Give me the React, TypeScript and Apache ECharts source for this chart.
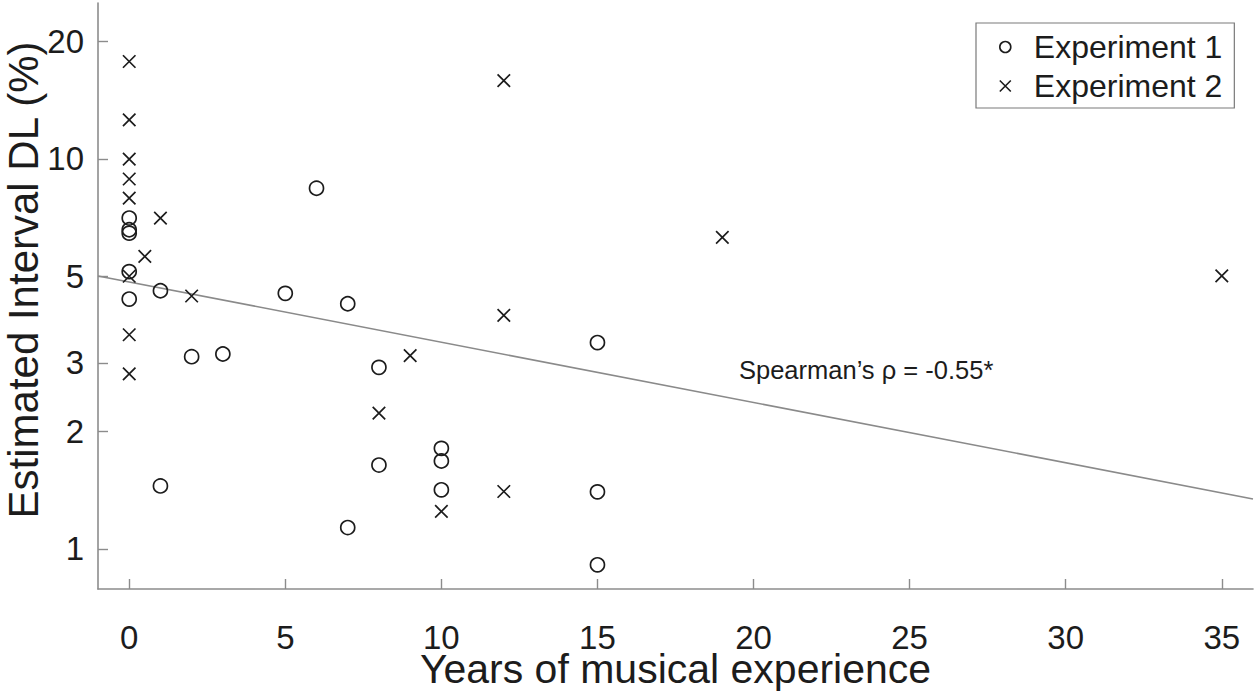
import React, { useEffect, useRef } from "react";
import * as echarts from "echarts";

// Experiment 1 (circles): years of musical experience, estimated interval DL (%)
const exp1X = [0, 0, 0, 0, 0, 1, 1, 2, 3, 5, 6, 7, 7, 8, 8, 10, 10, 10, 15, 15, 15];
const exp1Y = [7.05, 6.58, 6.45, 5.14, 4.37, 4.59, 1.45, 3.11, 3.16, 4.52, 8.41, 4.25, 1.134, 2.92, 1.64, 1.81, 1.68, 1.417, 3.38, 1.4, 0.91];

// Experiment 2 (crosses)
const exp2X = [0, 0, 0, 0, 0, 0, 0, 0, 0.5, 1, 2, 8, 9, 10, 12, 12, 12, 19, 35];
const exp2Y = [17.77, 12.59, 9.98, 8.88, 7.93, 5.0, 3.54, 2.81, 5.62, 7.05, 4.45, 2.23, 3.13, 1.247, 15.88, 3.97, 1.403, 6.29, 5.01];

// Fitted trend line end points
const fitX = [-1, 36];
const fitY = [5.01, 1.343];

const xTicks = [0, 5, 10, 15, 20, 25, 30, 35];
const yTicks = [1, 2, 3, 5, 10, 20];
const xRange = [-1, 36];
const yRange = [0.789, 25.1];

const seriesNames = ["Experiment 1", "Experiment 2"];
const xTitle = "Years of musical experience";
const yTitle = "Estimated Interval DL (%)";
const annotation = "Spearman\u2019s \u03c1 = -0.55*";

const FONT = "'Liberation Sans', Arial, Helvetica, sans-serif";
const CROSS = "path://M0,0L10,10M0,10L10,0";

const lg = (v: number) => Math.log10(v);

export default function App() {
  const ref = useRef<HTMLDivElement>(null);

  useEffect(() => {
    if (!ref.current) return;
    const chart = echarts.init(ref.current, undefined, { renderer: "svg" });

    const axisGray = "#8c8c8c";
    const ink = "#1c1c1c";

    const option: any = {
      animation: false,
      backgroundColor: "#ffffff",
      textStyle: { fontFamily: FONT },
      grid: { left: 98, right: 4, top: 3, bottom: 108, containLabel: false, outerBoundsMode: "none" },
      xAxis: {
        type: "value",
        min: xRange[0],
        max: xRange[1],
        name: xTitle,
        nameLocation: "middle",
        nameGap: 65,
        nameMoveOverlap: false,
        nameTextStyle: { fontSize: 41, lineHeight: 30, color: ink, fontFamily: FONT },
        axisLine: { show: true, onZero: false, lineStyle: { color: axisGray, width: 1.6 } },
        axisTick: { show: true, inside: true, length: 10, customValues: xTicks, lineStyle: { color: axisGray, width: 1.4 } },
        axisLabel: { customValues: xTicks, margin: 35, fontSize: 33, lineHeight: 26, color: ink, fontFamily: FONT },
        splitLine: { show: false },
      },
      yAxis: {
        type: "value",
        min: lg(yRange[0]),
        max: lg(yRange[1]),
        name: yTitle,
        nameLocation: "middle",
        nameGap: 57,
        nameMoveOverlap: false,
        nameTextStyle: { fontSize: 42, lineHeight: 36, color: ink, fontFamily: FONT, padding: [0, 0, 0, 32] },
        axisLine: { show: true, onZero: false, lineStyle: { color: axisGray, width: 1.6 } },
        axisTick: { show: true, inside: true, length: 10, customValues: yTicks.map(lg), lineStyle: { color: axisGray, width: 1.4 } },
        axisLabel: {
          customValues: yTicks.map(lg),
          margin: 14,
          fontSize: 33,
          color: ink,
          fontFamily: FONT,
          formatter: (v: number) => String(Math.round(Math.pow(10, v))),
        },
        splitLine: { show: false },
      },
      legend: {
        orient: "vertical",
        left: 976,
        top: 23,
        padding: [8, 12, 6, 23],
        itemGap: 7,
        itemWidth: 11,
        itemHeight: 11,
        borderColor: "#7a7a7a",
        borderWidth: 1.2,
        backgroundColor: "#ffffff",
        textStyle: { fontSize: 32, color: ink, fontFamily: FONT, padding: [0, 0, 0, 18] },
        data: [
          { name: seriesNames[0], icon: "circle", itemStyle: { color: "transparent", borderColor: ink, borderWidth: 1.6 } },
          { name: seriesNames[1], icon: CROSS, itemStyle: { color: "transparent", borderColor: ink, borderWidth: 1.6 } },
        ],
      },
      graphic: [
        {
          type: "text",
          x: 739,
          y: 370,
          z: 10,
          style: {
            text: annotation,
            fontSize: 25.5,
            fontFamily: FONT,
            fill: ink,
            verticalAlign: "middle",
            align: "left",
          },
        },
      ],
      series: [
        {
          name: "fit",
          type: "line",
          data: fitX.map((x, i) => [x, lg(fitY[i])]),
          showSymbol: false,
          symbol: "none",
          lineStyle: { color: "#8a8a8a", width: 1.6 },
          z: 1,
          silent: true,
        },
        {
          name: seriesNames[0],
          type: "scatter",
          symbol: "circle",
          symbolSize: 14,
          data: exp1X.map((x, i) => [x, lg(exp1Y[i])]),
          itemStyle: { color: "transparent", borderColor: ink, borderWidth: 1.7, opacity: 1 },
          z: 3,
        },
        {
          name: seriesNames[1],
          type: "scatter",
          symbol: CROSS,
          symbolSize: 12.5,
          data: exp2X.map((x, i) => [x, lg(exp2Y[i])]),
          itemStyle: { color: "transparent", borderColor: ink, borderWidth: 1.7, opacity: 1 },
          z: 3,
        },
      ],
    };

    chart.setOption(option);
    return () => {
      chart.dispose();
    };
  }, []);

  return (
    <div
      ref={ref}
      style={{ position: "fixed", left: 0, top: 0, width: 1257, height: 697, background: "#fff" }}
    />
  );
}
